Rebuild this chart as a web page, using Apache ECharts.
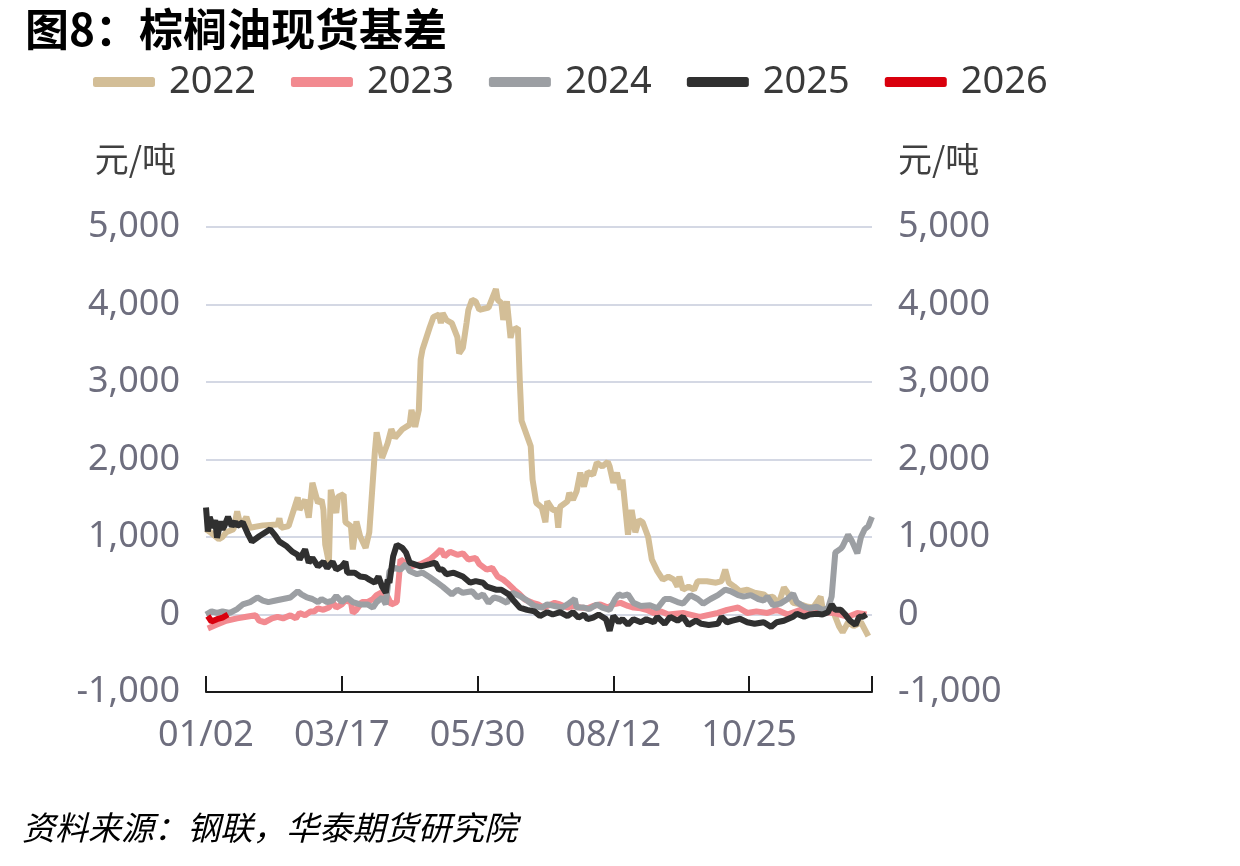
<!DOCTYPE html>
<html>
<head>
<meta charset="utf-8">
<script src="https://cdn.jsdelivr.net/npm/echarts@6/dist/echarts.min.js"></script>
<style>
  html, body { margin: 0; padding: 0; background: #fff; }
  #chart { width: 1240px; height: 866px; }
</style>
</head>
<body>
<div id="chart"></div>
<script>
// 横轴：01/02 至 12/31 的日历日，标签每 74 天一个
const firstDay = '2025-01-02';
const lastDay = '2025-12-31';
const labelStep = 74;

const seriesNames = ['2022', '2023', '2024', '2025', '2026'];
const seriesColors = ['#D3BE97', '#F28A90', '#9C9FA3', '#303030', '#D9000D'];

// [自 01/02 起的日序号, 基差 元/吨]
const basis2022 = [
    [0, 1100], [3, 1050], [7, 970], [9, 1000], [11, 1060], [15, 1100], [17, 1330], [19, 1130],
    [22, 1260], [24, 1120], [31, 1150], [39, 1160], [40, 1240], [41, 1120], [45, 1140], [50, 1510],
    [51, 1350], [54, 1480], [56, 1250], [58, 1700], [61, 1440], [63, 1480], [64, 1350], [65, 900],
    [67, 670], [68, 1610], [69, 1610], [71, 1310], [72, 1520], [75, 1550], [76, 1190], [79, 1140],
    [80, 840], [82, 1200], [84, 1010], [87, 860], [89, 1060], [92, 2090], [93, 2350], [96, 2020],
    [99, 2210], [101, 2390], [103, 2280], [107, 2390], [111, 2450], [112, 2640], [114, 2420],
    [116, 2640], [117, 3290], [118, 3420], [122, 3710], [124, 3840], [127, 3870], [128, 3760],
    [129, 3890], [131, 3800], [134, 3760], [137, 3580], [138, 3370], [140, 3440], [142, 3760],
    [143, 3930], [145, 4060], [147, 4040], [149, 3930], [154, 3960], [158, 4200], [159, 4060],
    [161, 4020], [162, 3800], [164, 4040], [166, 3570], [167, 3670], [170, 3700], [171, 3030],
    [172, 2500], [177, 2170], [178, 1740], [180, 1440], [183, 1380], [185, 1190], [186, 1460],
    [189, 1350], [191, 1350], [192, 1120], [193, 1390], [197, 1460], [198, 1570], [200, 1480],
    [202, 1590], [204, 1830], [206, 1650], [208, 1840], [211, 1800], [213, 1960], [216, 1910],
    [219, 1970], [220, 1910], [222, 1700], [224, 1830], [226, 1610], [227, 1740], [230, 1030],
    [232, 1350], [234, 1060], [236, 1220], [238, 1190], [241, 1000], [243, 710], [246, 560],
    [249, 450], [252, 490], [255, 450], [257, 360], [258, 490], [260, 320], [263, 360], [266, 320],
    [268, 430], [273, 430], [278, 410], [281, 430], [283, 580], [285, 410], [288, 360], [291, 300],
    [295, 320], [299, 280], [304, 260], [306, 220], [309, 230], [312, 130], [315, 350], [317, 280],
    [320, 150], [324, 130], [328, 100], [331, 90], [335, 230], [336, 90], [339, 30], [342, 30],
    [345, -150], [347, -230], [350, -100], [353, -150], [357, -100], [361, -280]
];

const basis2023 = [
    [1, -180], [6, -130], [11, -80], [17, -50], [22, -30], [27, -10], [29, -80], [32, -100],
    [36, -50], [39, -30], [42, -50], [46, -10], [49, -50], [51, 20], [54, -10], [57, 40], [59, 40],
    [61, 80], [64, 60], [67, 90], [69, 160], [71, 90], [74, 130], [76, 180], [79, 160], [80, 20],
    [82, 60], [85, 160], [88, 160], [91, 200], [93, 250], [96, 290], [99, 230], [101, 130],
    [104, 160], [106, 710], [107, 730], [111, 620], [117, 650], [122, 710], [125, 770], [128, 840],
    [130, 750], [133, 810], [137, 770], [140, 790], [143, 710], [147, 730], [149, 650], [153, 580],
    [156, 600], [159, 490], [162, 450], [165, 390], [168, 320], [171, 260], [174, 190], [178, 150],
    [181, 130], [184, 90], [186, 110], [190, 150], [193, 130], [197, 90], [200, 110], [204, 90],
    [208, 80], [211, 110], [215, 130], [219, 90], [222, 130], [226, 150], [230, 110], [233, 90],
    [237, 80], [240, 60], [244, 20], [248, 40], [252, 0], [260, 20], [269, -30], [279, 20],
    [284, 60], [290, 90], [295, 20], [300, 40], [306, 20], [311, 60], [317, 0], [324, 60],
    [329, 20], [335, 40], [342, 20], [350, -30], [355, 20], [360, 0]
];

const basis2024 = [
    [0, 0], [3, 40], [6, 20], [9, 40], [13, 20], [17, 70], [20, 130], [24, 160], [28, 220],
    [31, 180], [34, 160], [38, 180], [42, 200], [46, 220], [50, 300], [52, 260], [55, 220],
    [58, 200], [61, 160], [63, 200], [66, 160], [69, 180], [71, 240], [74, 160], [77, 220],
    [80, 160], [84, 130], [88, 130], [91, 90], [93, 160], [96, 220], [98, 130], [100, 560],
    [103, 600], [106, 580], [109, 650], [111, 560], [115, 520], [118, 540], [122, 480], [125, 430],
    [129, 360], [134, 260], [137, 320], [140, 280], [145, 300], [148, 220], [151, 260], [154, 150],
    [157, 220], [160, 200], [164, 150], [167, 280], [171, 240], [175, 180], [179, 110], [183, 90],
    [186, 130], [190, 110], [194, 90], [197, 130], [201, 200], [202, 90], [206, 90], [209, 70],
    [213, 130], [216, 90], [220, 60], [223, 200], [225, 260], [227, 240], [230, 260], [233, 150],
    [237, 110], [242, 120], [246, 80], [250, 200], [253, 200], [257, 160], [260, 140], [264, 250],
    [268, 200], [271, 140], [275, 200], [279, 250], [283, 320], [286, 300], [290, 250], [293, 230],
    [297, 250], [301, 200], [304, 180], [306, 230], [309, 120], [313, 140], [317, 200], [320, 270],
    [322, 160], [326, 100], [329, 80], [333, 100], [336, 60], [339, 80], [341, 230], [343, 800],
    [346, 850], [347, 880], [350, 1030], [352, 950], [355, 790], [357, 1000], [359, 1100],
    [361, 1140], [363, 1260]
];

const basis2025 = [
    [0, 1380], [1, 1070], [2, 1260], [4, 1120], [5, 1220], [6, 990], [8, 1200], [9, 1100],
    [10, 1140], [12, 1260], [14, 1140], [16, 1200], [17, 1140], [20, 1190], [23, 1030], [25, 940],
    [29, 1010], [35, 1100], [38, 1010], [40, 940], [44, 880], [47, 810], [50, 770], [51, 710],
    [54, 840], [56, 670], [58, 730], [61, 620], [64, 680], [66, 600], [69, 680], [71, 580],
    [74, 620], [76, 680], [77, 540], [81, 540], [84, 490], [87, 480], [89, 450], [92, 410],
    [94, 490], [96, 360], [98, 280], [99, 450], [100, 410], [102, 750], [104, 900], [107, 860],
    [109, 800], [111, 670], [117, 620], [122, 650], [125, 670], [127, 580], [129, 580], [131, 520],
    [135, 540], [137, 520], [140, 490], [144, 410], [147, 430], [151, 410], [153, 360], [158, 320],
    [161, 320], [165, 260], [168, 170], [171, 90], [175, 60], [179, 40], [182, -20], [186, 30],
    [189, 0], [193, 30], [197, -20], [200, 30], [203, -40], [206, 0], [208, -60], [211, -40],
    [214, 0], [218, -60], [220, -210], [222, -20], [225, -100], [227, -60], [230, -130], [233, -60],
    [237, -100], [240, -60], [244, -100], [246, -30], [250, -120], [253, -30], [257, -80],
    [260, -30], [263, -135], [267, -80], [270, -120], [274, -135], [279, -120], [281, -30],
    [284, -100], [287, -80], [291, -55], [295, -100], [299, -120], [304, -100], [308, -160],
    [311, -100], [315, -80], [320, -30], [322, 10], [326, -30], [329, 0], [333, 10], [336, 0],
    [339, 30], [341, 130], [343, 60], [346, 60], [348, 10], [351, -80], [354, -135], [356, -30],
    [358, -30], [360, 0]
];

const basis2026 = [
    [1, -20], [3, -90], [6, -60], [9, -40], [12, 0]
];

const yMin = -1000;
const yMax = 5000;
const yStep = 1000;

function buildDates(from, to) {
    const out = [];
    const d = new Date(from + 'T00:00:00Z');
    const end = new Date(to + 'T00:00:00Z');
    while (d <= end) {
        const mm = String(d.getUTCMonth() + 1).padStart(2, '0');
        const dd = String(d.getUTCDate()).padStart(2, '0');
        out.push(mm + '/' + dd);
        d.setUTCDate(d.getUTCDate() + 1);
    }
    return out;
}

const dates = buildDates(firstDay, lastDay);
const allData = [basis2022, basis2023, basis2024, basis2025, basis2026];

const chart = echarts.init(document.getElementById('chart'));

const labelFont = '"Noto Sans", "Noto Sans CJK SC", sans-serif';
const axisLabelColor = '#6E6E7E';

function yAxisOf(side) {
    const left = side === 'left';
    return {
        type: 'value',
        position: side,
        min: yMin,
        max: yMax,
        interval: yStep,
        name: '元/吨',
        nameLocation: 'end',
        nameGap: 68,
        nameTextStyle: {
            fontFamily: '"Noto Sans CJK SC", sans-serif',
            fontSize: 34,
            color: '#404040',
            align: left ? 'right' : 'left',
            verticalAlign: 'middle',
            padding: left ? [0, 30, 0, 0] : [0, 0, 0, 26]
        },
        axisLine: { show: false },
        axisTick: { show: false },
        axisLabel: {
            margin: 26,
            fontFamily: labelFont,
            fontSize: 36,
            color: axisLabelColor,
            formatter: v => v.toLocaleString('en-US')
        },
        splitLine: {
            show: left,
            lineStyle: { color: '#D4D8E4', width: 2 }
        }
    };
}

const option = {
    backgroundColor: '#fff',
    animation: false,
    title: {
        text: '图8：棕榈油现货基差',
        left: 20,
        top: 2,
        textStyle: {
            fontFamily: '"Noto Sans CJK SC", sans-serif',
            fontSize: 44,
            fontWeight: 'bold',
            color: '#000'
        }
    },
    legend: {
        data: seriesNames,
        left: 88,
        top: 58,
        icon: 'roundRect',
        itemWidth: 62,
        itemHeight: 10,
        itemGap: 35,
        textStyle: {
            fontFamily: labelFont,
            fontSize: 38,
            color: '#3A3A3A',
            padding: [0, 0, 0, 9]
        }
    },
    grid: {
        left: 206,
        right: 368,
        top: 227,
        bottom: 174,
        containLabel: false
    },
    xAxis: {
        type: 'category',
        data: dates,
        boundaryGap: false,
        axisLine: { onZero: false, lineStyle: { color: '#1A1A1A', width: 2 } },
        axisTick: {
            inside: true,
            length: 16,
            lineStyle: { color: '#1A1A1A', width: 2 },
            interval: i => i % labelStep === 0 || i === dates.length - 1
        },
        axisLabel: {
            margin: 26,
            fontFamily: labelFont,
            fontSize: 36,
            color: axisLabelColor,
            interval: i => i % labelStep === 0 && i < dates.length - 40
        },
        splitLine: { show: false }
    },
    yAxis: [yAxisOf('left'), yAxisOf('right')],
    series: seriesNames.map((name, k) => ({
        name: name,
        type: 'line',
        yAxisIndex: 0,
        data: allData[k],
        showSymbol: false,
        symbol: 'none',
        lineStyle: { width: 6, color: seriesColors[k] },
        itemStyle: { color: seriesColors[k] }
    })),
    graphic: [{
        type: 'text',
        left: 22,
        top: 811,
        style: {
            text: '资料来源：钢联，华泰期货研究院',
            font: 'italic 33px "Noto Sans CJK SC", sans-serif',
            fill: '#000'
        }
    }]
};

chart.setOption(option);
window.addEventListener('resize', () => chart.resize());
</script>
</body>
</html>
